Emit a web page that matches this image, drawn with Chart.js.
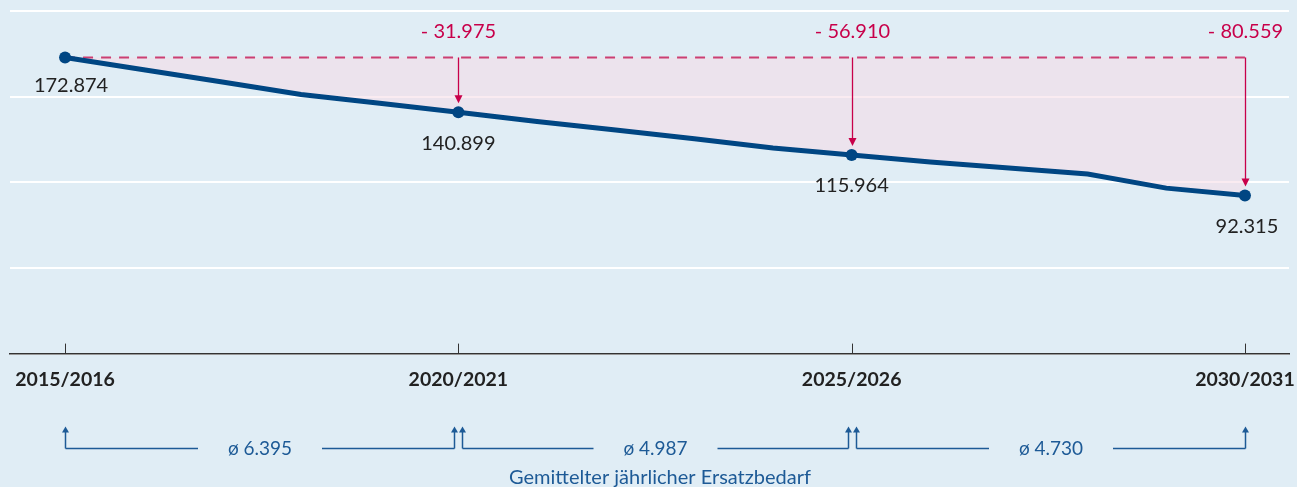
<!DOCTYPE html>
<html>
<head>
<meta charset="utf-8">
<script src="https://cdn.jsdelivr.net/npm/chart.js@4"></script>
<style>
  html, body { margin: 0; padding: 0; background: #e0edf5; }
  #wrap { width: 1297px; height: 487px; position: relative; }
</style>
</head>
<body>
<div id="wrap"><canvas id="c" width="1297" height="487"></canvas></div>
<script>
// ---- Data ----
const categories = ['2015/2016','2016/2017','2017/2018','2018/2019','2019/2020','2020/2021','2021/2022','2022/2023','2023/2024','2024/2025','2025/2026','2026/2027','2027/2028','2028/2029','2029/2030','2030/2031'];
const values = [172.874, 165.7, 158.5, 151.3, 146.1, 140.899, 135.5, 130.5, 125.4, 120.0, 115.964, 111.9, 108.4, 104.8, 96.6, 92.315];
const highlightIdx = [0, 5, 10, 15];
const tickIdx = [0, 5, 10, 15];
const differences = ['- 31.975', '- 56.910', '- 80.559'];
const averages = ['ø 6.395', 'ø 4.987', 'ø 4.730'];
const bottomTitle = 'Gemittelter jährlicher Ersatzbedarf';
const baseLevel = values[0];

const FONT = 'Lato, "Open Sans", sans-serif';
const BLUE = '#004683';
const CRIMSON = '#c8004a';
const BRACKET = '#1d5a96';

const fmt = v => v.toFixed(3);

const pts = values.map((v, i) => ({x: i, y: v}));
const basePts = values.map((v, i) => ({x: i, y: baseLevel}));

const annot = {
  id: 'annot',
  afterDatasetsDraw(chart) {
    const ctx = chart.ctx;
    const xs = chart.scales.x, ys = chart.scales.y;
    const area = chart.chartArea;
    const yBase = ys.getPixelForValue(baseLevel);
    ctx.save();
    // arrows from base level to points
    highlightIdx.slice(1).forEach((idx, k) => {
      const x = Math.round(xs.getPixelForValue(idx)) + 0.5;
      const yp = ys.getPixelForValue(values[idx]);
      const tip = yp - 9;
      ctx.strokeStyle = CRIMSON;
      ctx.fillStyle = CRIMSON;
      ctx.lineWidth = 1.3;
      ctx.beginPath();
      ctx.moveTo(x, yBase);
      ctx.lineTo(x, tip - 6);
      ctx.stroke();
      ctx.beginPath();
      ctx.moveTo(x - 4, tip - 8);
      ctx.lineTo(x + 4, tip - 8);
      ctx.lineTo(x, tip);
      ctx.closePath();
      ctx.fill();
      // difference labels
      ctx.font = '20px ' + FONT;
      ctx.textAlign = 'center';
      ctx.textBaseline = 'middle';
      ctx.fillText(differences[k], x, area.top + 21);
    });
    // value labels
    ctx.fillStyle = '#222';
    ctx.font = '20px ' + FONT;
    ctx.textAlign = 'center';
    ctx.textBaseline = 'middle';
    highlightIdx.forEach((idx, k) => {
      let x = xs.getPixelForValue(idx);
      let dy = 31;
      if (k === 0) { x += 6; dy = 28; }
      if (k === highlightIdx.length - 1) x += 2;
      const yp = ys.getPixelForValue(values[idx]);
      ctx.fillText(fmt(values[idx]), x, yp + dy);
    });
    ctx.restore();
  },
  afterDraw(chart) {
    const ctx = chart.ctx;
    const xs = chart.scales.x;
    const area = chart.chartArea;
    ctx.save();
    // upward tick marks on the x axis
    ctx.strokeStyle = '#333';
    ctx.lineWidth = 1;
    tickIdx.forEach(idx => {
      const x = Math.round(xs.getPixelForValue(idx)) + 0.5;
      ctx.beginPath();
      ctx.moveTo(x, area.bottom - 10);
      ctx.lineTo(x, area.bottom);
      ctx.stroke();
    });
    // bottom brackets
    const yLine = Math.round(area.bottom + 94) + 0.5;
    const yTip = area.bottom + 73;
    ctx.strokeStyle = BRACKET;
    ctx.fillStyle = BRACKET;
    ctx.lineWidth = 1.5;
    ctx.font = '19px ' + FONT;
    ctx.textAlign = 'center';
    ctx.textBaseline = 'middle';
    const upArrow = (x) => {
      ctx.beginPath();
      ctx.moveTo(x, yLine);
      ctx.lineTo(x, yTip + 5);
      ctx.stroke();
      ctx.beginPath();
      ctx.moveTo(x - 3.5, yTip + 6);
      ctx.lineTo(x + 3.5, yTip + 6);
      ctx.lineTo(x, yTip);
      ctx.closePath();
      ctx.fill();
    };
    for (let s = 0; s < tickIdx.length - 1; s++) {
      const a = tickIdx[s], b = tickIdx[s + 1];
      const xl = Math.round(xs.getPixelForValue(a) + (s === 0 ? 0 : 4)) + 0.5;
      const xr = Math.round(xs.getPixelForValue(b) - (s === tickIdx.length - 2 ? 0 : 4)) + 0.5;
      const mid = (xl + xr) / 2;
      ctx.beginPath();
      ctx.moveTo(xl, yLine);
      ctx.lineTo(mid - 62, yLine);
      ctx.moveTo(mid + 62, yLine);
      ctx.lineTo(xr, yLine);
      ctx.stroke();
      upArrow(xl);
      upArrow(xr);
      ctx.fillText(averages[s], mid, yLine);
    }
    ctx.font = '20px ' + FONT;
    const xm = (xs.getPixelForValue(tickIdx[0]) + xs.getPixelForValue(tickIdx[tickIdx.length - 1])) / 2 + 5;
    ctx.fillText(bottomTitle, xm, area.bottom + 124);
    ctx.restore();
  }
};

new Chart(document.getElementById('c'), {
  type: 'line',
  plugins: [annot],
  data: {
    datasets: [
      {
        label: 'Bestand',
        data: pts,
        borderColor: BLUE,
        borderWidth: 5,
        pointRadius: values.map((v, i) => highlightIdx.includes(i) ? 6 : 0),
        pointHoverRadius: 0,
        pointBackgroundColor: BLUE,
        pointBorderWidth: 0,
        fill: false,
        order: 0
      },
      {
        label: 'Ausgangsniveau',
        data: basePts,
        borderColor: '#cc3f72',
        borderWidth: 2,
        borderDash: [10, 8],
        pointRadius: 0,
        fill: {target: 0},
        backgroundColor: 'rgba(245, 218, 230, 0.55)',
        order: 1
      }
    ]
  },
  options: {
    responsive: false,
    animation: false,
    events: [],
    layout: { padding: { left: 10, right: 8, top: 11, bottom: 82 } },
    plugins: { legend: { display: false }, tooltip: { enabled: false } },
    scales: {
      x: {
        type: 'linear',
        min: -0.7,
        max: 15.56,
        afterBuildTicks(scale) { scale.ticks = tickIdx.map(v => ({value: v})); },
        afterFit(scale) { scale.paddingLeft = 0; scale.paddingRight = 0; },
        ticks: {
          callback: (v) => categories[v],
          autoSkip: false,
          maxRotation: 0,
          padding: 14,
          color: '#222',
          font: { family: FONT, size: 19.5, weight: 'bold' }
        },
        grid: { display: false, drawTicks: false },
        border: { display: true, color: '#333', width: 1.5 }
      },
      y: {
        min: 0,
        max: 200,
        ticks: { display: false, stepSize: 50 },
        grid: { color: '#ffffff', lineWidth: 2, drawTicks: false },
        border: { display: false }
      }
    }
  }
});
</script>
</body>
</html>
